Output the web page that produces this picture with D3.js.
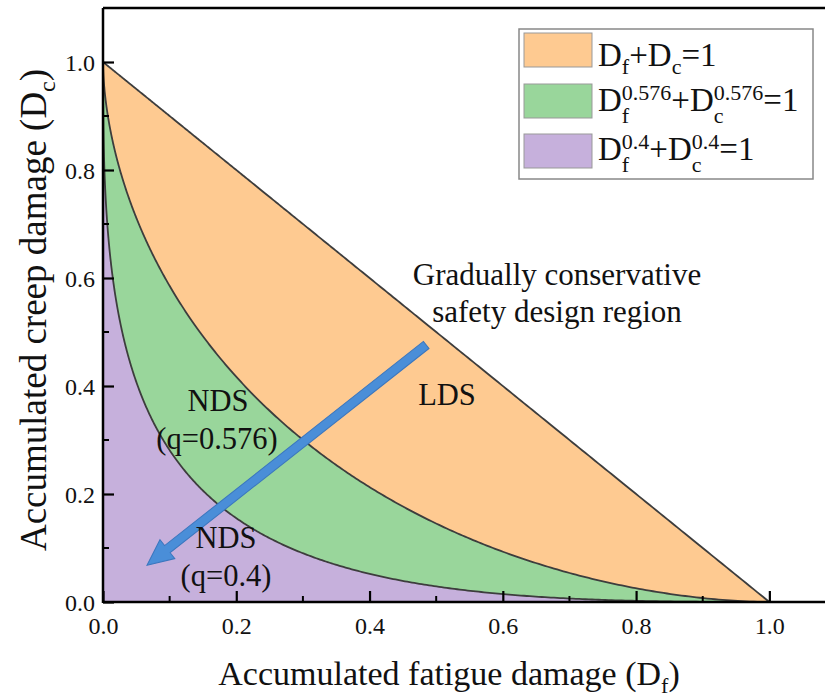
<!DOCTYPE html>
<html>
<head>
<meta charset="utf-8">
<script src="https://cdn.jsdelivr.net/npm/d3@7/dist/d3.min.js"></script>
<style>
  html, body { margin: 0; padding: 0; background: #fff; }
</style>
</head>
<body>
<svg id="chart" width="825" height="699"></svg>
<script>
// Damage interaction envelopes: Df^q + Dc^q = 1
const exponents = [1, 0.576, 0.4];
const fillColors = ["#FECA91", "#99D69B", "#C6B0DC"];
const legendExps = ["", "0.576", "0.4"];
const xTickValues = [0, 0.2, 0.4, 0.6, 0.8, 1.0];
const yTickValues = [0, 0.2, 0.4, 0.6, 0.8, 1.0];
const minorTicks = [0.1, 0.3, 0.5, 0.7, 0.9];
const arrowFrom = [0.485, 0.476];
const arrowTo = [0.066, 0.068];

const FONT = '"Liberation Serif"';
const svg = d3.select("#chart");
const margin = { left: 103, top: 8, right: -11, bottom: 97 };
const W = 825, H = 699;
const x = d3.scaleLinear().domain([0, 1.1]).range([margin.left, W - margin.right]);
const y = d3.scaleLinear().domain([0, 1.1]).range([H - margin.bottom, margin.top]);

function txt(parent) {
  return parent.append("text").style("font-family", FONT).attr("fill", "#111");
}

// curve samples, denser near the axes where the low-q curves bend sharply
const tSamples = d3.range(0, 1.00001, 0.002);
function curvePoints(q) {
  return tSamples.map(t => {
    const df = Math.pow(t, 3);
    return [df, Math.pow(Math.max(0, 1 - Math.pow(df, q)), 1 / q)];
  });
}

const area = d3.area().x(d => x(d[0])).y0(y(0)).y1(d => y(d[1]));
const line = d3.line().x(d => x(d[0])).y(d => y(d[1]));

exponents.forEach((q, i) => {
  svg.append("path").attr("d", area(curvePoints(q))).attr("fill", fillColors[i]);
});
exponents.forEach(q => {
  svg.append("path").attr("d", line(curvePoints(q))).attr("fill", "none")
    .attr("stroke", "#3d3d3d").attr("stroke-width", 1.8);
});

// axes frame
const g = svg.append("g");
g.append("line").attr("x1", x(0)).attr("x2", W).attr("y1", y(0)).attr("y2", y(0))
  .attr("stroke", "#000").attr("stroke-width", 2.5);
g.append("line").attr("x1", x(0)).attr("x2", x(0)).attr("y1", y(0) + 1).attr("y2", y(1.1))
  .attr("stroke", "#000").attr("stroke-width", 2.5);
g.append("line").attr("x1", x(0)).attr("x2", W).attr("y1", y(1.1)).attr("y2", y(1.1))
  .attr("stroke", "#000").attr("stroke-width", 2.5);

// ticks (inward)
const xAxis = d3.axisBottom(x).tickValues(xTickValues).tickSize(-11).tickPadding(15)
  .tickFormat(d3.format(".1f"));
const xa = svg.append("g").attr("transform", `translate(0,${y(0)})`).call(xAxis);
const yAxis = d3.axisLeft(y).tickValues(yTickValues).tickSize(-11).tickPadding(8)
  .tickFormat(d3.format(".1f"));
const ya = svg.append("g").attr("transform", `translate(${x(0)},0)`).call(yAxis);
[xa, ya].forEach(a => {
  a.attr("font-family", null);
  a.select(".domain").remove();
  a.selectAll(".tick line").attr("stroke", "#000").attr("stroke-width", 2.2);
  a.selectAll(".tick text").attr("font-size", 24).attr("fill", "#111")
    .style("font-family", FONT);
});
ya.selectAll(".tick text").attr("dy", "0.35em");
svg.append("g").selectAll("line").data(minorTicks).join("line")
  .attr("x1", d => x(d)).attr("x2", d => x(d)).attr("y1", y(0)).attr("y2", y(0) - 6)
  .attr("stroke", "#000").attr("stroke-width", 2);
svg.append("g").selectAll("line").data(minorTicks).join("line")
  .attr("y1", d => y(d)).attr("y2", d => y(d)).attr("x1", x(0)).attr("x2", x(0) + 6)
  .attr("stroke", "#000").attr("stroke-width", 2);

// axis titles
const xt = txt(svg).attr("x", 449).attr("y", 685).attr("text-anchor", "middle")
  .attr("font-size", 34);
xt.append("tspan").text("Accumulated fatigue damage (D");
xt.append("tspan").attr("font-size", 22).attr("dy", 8).text("f");
xt.append("tspan").attr("dy", -8).text(")");

const yt = txt(svg).attr("transform", "translate(46,310) rotate(-90)")
  .attr("text-anchor", "middle").attr("font-size", 37);
yt.append("tspan").text("Accumulated creep damage (D");
yt.append("tspan").attr("font-size", 24).attr("dy", 9).text("c");
yt.append("tspan").attr("dy", -9).text(")");

// direction arrow
const ax0 = x(arrowFrom[0]), ay0 = y(arrowFrom[1]);
const ax1 = x(arrowTo[0]), ay1 = y(arrowTo[1]);
const ang = Math.atan2(ay1 - ay0, ax1 - ax0);
const len = Math.hypot(ax1 - ax0, ay1 - ay0);
const sw = 4.5, hw = 12, hl = 26;
const arrowShape = [[0, -sw], [len - hl, -sw], [len - hl, -hw], [len, 0], [len - hl, hw], [len - hl, sw], [0, sw]];
svg.append("path")
  .attr("d", d3.line()(arrowShape) + "Z")
  .attr("transform", `translate(${ax0},${ay0}) rotate(${ang * 180 / Math.PI})`)
  .attr("fill", "#4A8ED8").attr("stroke", "#3A76BE").attr("stroke-width", 1);

// annotations
const ann = [
  { t: "Gradually conservative", x: 557, y: 285, s: 31 },
  { t: "safety design region", x: 557, y: 322, s: 31 },
  { t: "LDS", x: 447, y: 405, s: 30.5 },
  { t: "NDS", x: 218, y: 411, s: 30.5 },
  { t: "(q=0.576)", x: 217, y: 449, s: 30.5 },
  { t: "NDS", x: 226, y: 548, s: 30.5 },
  { t: "(q=0.4)", x: 226, y: 586, s: 30.5 }
];
ann.forEach(d => {
  txt(svg).attr("x", d.x).attr("y", d.y).attr("text-anchor", "middle")
    .attr("font-size", d.s).text(d.t);
});

// legend
const lg = svg.append("g");
lg.append("rect").attr("x", 519).attr("y", 29).attr("width", 294).attr("height", 150)
  .attr("fill", "#fff").attr("stroke", "#888").attr("stroke-width", 1.5);
const MS = 33, SS = 22;
const swatchY = [33, 84, 134];
const baseY = [66, 111, 160];
exponents.forEach((q, i) => {
  lg.append("rect").attr("x", 524).attr("y", swatchY[i]).attr("width", 68).attr("height", 34)
    .attr("fill", fillColors[i]).attr("stroke", "#999").attr("stroke-width", 1);
  const base = baseY[i];
  const e = legendExps[i];
  let cx = 598;
  // a "D" term with its subscript and optional superscript stacked after it
  function term(label, sub) {
    const t = txt(lg).attr("x", cx).attr("y", base).attr("font-size", MS).text(label);
    cx += t.node().getComputedTextLength();
    let w = 0;
    if (e) {
      const sp = txt(lg).attr("x", cx).attr("y", base - 11).attr("font-size", SS).text(e);
      w = sp.node().getComputedTextLength();
    }
    const sb = txt(lg).attr("x", cx).attr("y", base + (e ? 12 : 8)).attr("font-size", SS).text(sub);
    w = Math.max(w, sb.node().getComputedTextLength());
    cx += w;
  }
  term("D", "f");
  term("+D", "c");
  txt(lg).attr("x", cx).attr("y", base).attr("font-size", MS).text("=1");
});
</script>
</body>
</html>
